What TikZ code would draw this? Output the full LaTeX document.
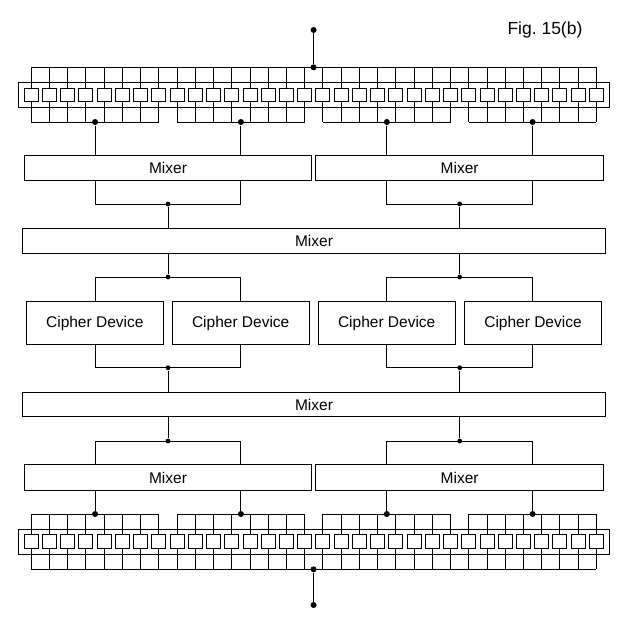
\documentclass[tikz,border=0pt]{standalone}
\usepackage{fontspec}
\setmainfont{Liberation Sans}
\begin{document}
\begin{tikzpicture}[x=1pt,y=-1pt,line width=1pt,
  cell/.style={draw,rectangle,minimum width=14pt,minimum height=13.5pt,inner sep=0pt},
  regbox/.style={draw,rectangle,inner sep=0pt,minimum width=590.7pt,minimum height=25pt},
  box/.style={draw,rectangle,inner sep=0pt,font=\fontsize{15.5}{18}\selectfont},
  mixsmall/.style={box,minimum width=287.4pt,minimum height=25.3pt},
  mixbig/.style={box,minimum width=583.4pt,minimum height=24.8pt},
  cipher/.style={box,minimum width=137pt,minimum height=42.6pt},
  dot/.style={circle,fill,inner sep=0pt,minimum size=6pt},
  sdot/.style={circle,fill,inner sep=0pt,minimum size=4.8pt}]
\path[use as bounding box] (0,0) rectangle (627,626);

% label
\node[anchor=base west,inner sep=0pt,font=\fontsize{17.5}{20}\selectfont] (fig) at (507,34.5) {Fig.\ 15(b)};

% column coordinates
\coordinate (cA) at (95.1,0);
\coordinate (cB) at (240.9,0);
\coordinate (cC) at (386.8,0);
\coordinate (cD) at (532.6,0);

% ---------- top register ----------
\node[regbox] (treg) at (313.65,94.8) {};
\foreach \i in {0,...,31} {
  \pgfmathsetmacro\cx{31.3+18.23*\i}
  \node[cell] (t\i) at (\cx,94.8) {};
  \coordinate (tu\i) at (\cx,67.3);
  \coordinate (td\i) at (\cx,122);
  \draw (tu\i) -- (t\i.north);
  \draw (t\i.south) -- (td\i);
}
\draw (tu0) -- (tu31);
\foreach \g/\col in {0/cA,1/cB,2/cC,3/cD} {
  \pgfmathtruncatemacro\a{8*\g}
  \pgfmathtruncatemacro\b{8*\g+7}
  \draw (td\a) -- (td\b);
  \node[dot] (tg\g) at (\col |- td\a) {};
}
\node[dot] (tin) at (313.6,67.3) {};
\node[dot] (tsrc) at (313.6,30) {};
\draw (tsrc) -- (tin);

% ---------- upper mixers ----------
\node[mixsmall] (m1) at (168,167.65) {Mixer};
\node[mixsmall] (m2) at (459.65,167.65) {Mixer};
\draw (tg0) -- (tg0 |- m1.north);
\draw (tg1) -- (tg1 |- m1.north);
\draw (tg2) -- (tg2 |- m2.north);
\draw (tg3) -- (tg3 |- m2.north);

\node[sdot] (j1) at (168,204) {};
\node[sdot] (j2) at (459.7,204) {};
\draw (cA |- m1.south) -- (cA |- j1) -- (cB |- j1) -- (cB |- m1.south);
\draw (cC |- m2.south) -- (cC |- j2) -- (cD |- j2) -- (cD |- m2.south);

\node[mixbig] (ma) at (314,240.8) {Mixer};
\draw (j1) -- (j1 |- ma.north);
\draw (j2) -- (j2 |- ma.north);

% ---------- cipher devices ----------
\node[sdot] (j3) at (168,277) {};
\node[sdot] (j4) at (459.7,277) {};
\draw (j3 |- ma.south) -- (j3);
\draw (j4 |- ma.south) -- (j4);

\node[cipher] (c1) at (94.8,323) {Cipher Device};
\node[cipher] (c2) at (240.7,323) {Cipher Device};
\node[cipher] (c3) at (386.7,323) {Cipher Device};
\node[cipher] (c4) at (533,323) {Cipher Device};
\draw (cA |- c1.north) -- (cA |- j3) -- (cB |- j3) -- (cB |- c2.north);
\draw (cC |- c3.north) -- (cC |- j4) -- (cD |- j4) -- (cD |- c4.north);

\node[sdot] (j5) at (168,367.7) {};
\node[sdot] (j6) at (459.7,367.7) {};
\draw (cA |- c1.south) -- (cA |- j5) -- (cB |- j5) -- (cB |- c2.south);
\draw (cC |- c3.south) -- (cC |- j6) -- (cD |- j6) -- (cD |- c4.south);

\node[mixbig] (mb) at (314,404.5) {Mixer};
\draw (j5) -- (j5 |- mb.north);
\draw (j6) -- (j6 |- mb.north);

% ---------- lower mixers ----------
\node[sdot] (j7) at (168,441) {};
\node[sdot] (j8) at (459.7,441) {};
\draw (j7 |- mb.south) -- (j7);
\draw (j8 |- mb.south) -- (j8);

\node[mixsmall] (m3) at (168,477.5) {Mixer};
\node[mixsmall] (m4) at (459.65,477.5) {Mixer};
\draw (cA |- m3.north) -- (cA |- j7) -- (cB |- j7) -- (cB |- m3.north);
\draw (cC |- m4.north) -- (cC |- j8) -- (cD |- j8) -- (cD |- m4.north);

% ---------- bottom register ----------
\node[regbox] (breg) at (313.65,541.8) {};
\foreach \i in {0,...,31} {
  \pgfmathsetmacro\cx{31.3+18.23*\i}
  \node[cell,minimum height=14pt] (b\i) at (\cx,541.3) {};
  \coordinate (bu\i) at (\cx,514);
  \coordinate (bd\i) at (\cx,569.3);
  \draw (bu\i) -- (b\i.north);
  \draw (b\i.south) -- (bd\i);
}
\draw (bd0) -- (bd31);
\foreach \g/\col/\m in {0/cA/m3,1/cB/m3,2/cC/m4,3/cD/m4} {
  \pgfmathtruncatemacro\a{8*\g}
  \pgfmathtruncatemacro\b{8*\g+7}
  \draw (bu\a) -- (bu\b);
  \node[dot] (bg\g) at (\col |- bu\a) {};
  \draw (\col |- \m.south) -- (bg\g);
}
\node[dot] (bout) at (313.6,569.3) {};
\node[dot] (bdst) at (313.6,605) {};
\draw (bout) -- (bdst);
\end{tikzpicture}
\end{document}
